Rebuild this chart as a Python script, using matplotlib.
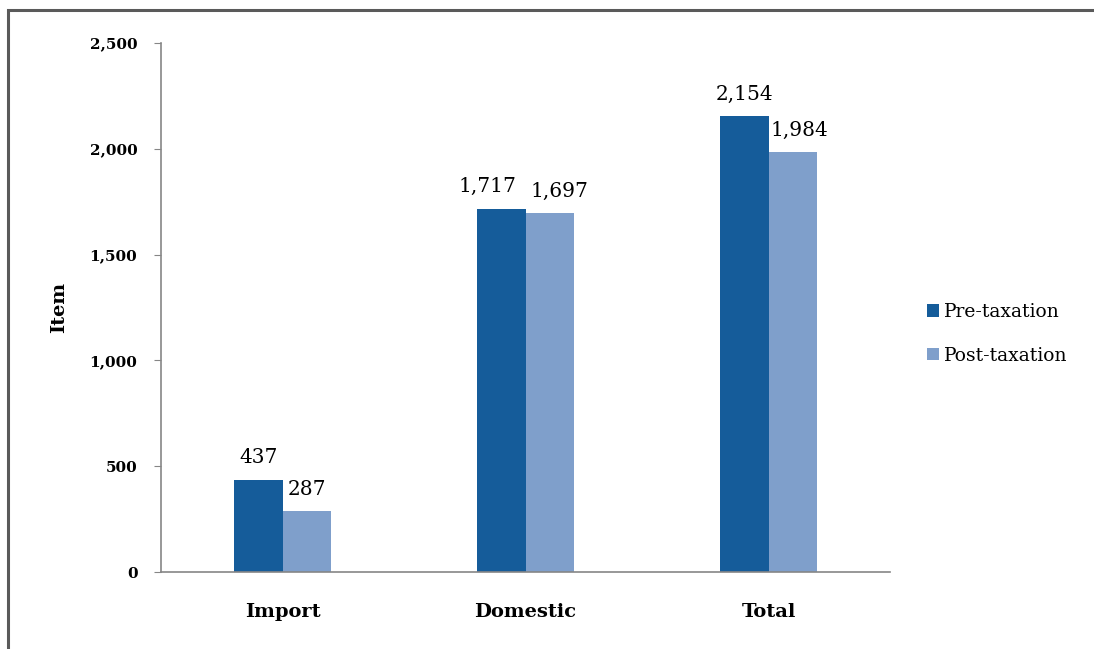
import numpy as np
import matplotlib
matplotlib.use('Agg')
import matplotlib.pyplot as plt
from matplotlib.patches import Rectangle

# Chart data
categories = ['Import', 'Domestic', 'Total']
pre_tax = [437, 1717, 2154]
post_tax = [287, 1697, 1984]
series_names = ['Pre-taxation', 'Post-taxation']
y_ticks = [0, 500, 1000, 1500, 2000, 2500]

# label nudges (points) so neighbouring labels do not collide, as in the original
pre_nudge = [0, -10, 0]
post_nudge = [0, 7, 5]

plt.rcParams['font.family'] = ['DejaVu Serif']

fig = plt.figure(figsize=(10.94, 6.49), dpi=100)
ax = fig.add_axes([0.1472, 0.1186, 0.6664, 0.8151])

# grey frame around the chart (runs off right/bottom edges)
fig.patches.append(Rectangle((8 / 1094, -0.1), 1.2, 1 - 10 / 649 + 0.1,
                             transform=fig.transFigure, fill=False,
                             edgecolor='#5a5a5a', linewidth=2.2))

x = np.arange(len(categories))
w = 0.2
bars1 = ax.bar(x - w / 2, pre_tax, w, color='#155C9A', label=series_names[0])
bars2 = ax.bar(x + w / 2, post_tax, w, color='#7F9FCB', label=series_names[1])

for bars, nudges in ((bars1, pre_nudge), (bars2, post_nudge)):
    for b, dx in zip(bars, nudges):
        ax.annotate(f'{int(b.get_height()):,}', (b.get_x() + b.get_width() / 2, b.get_height()),
                    xytext=(dx, 9), textcoords='offset points', ha='center', va='bottom',
                    fontsize=14.5)

ax.set_xlim(-0.5, 2.5)
ax.set_ylim(0, 2500)
ax.set_xticks(x)
ax.set_xticklabels(categories, fontsize=14, fontweight='bold')
ax.set_yticks(y_ticks)
ax.set_yticklabels([f'{v:,}' for v in y_ticks], fontsize=11, fontweight='bold')
ax.tick_params(axis='x', length=0, pad=22)
ax.tick_params(axis='y', length=5, color='#868686', pad=12)

ax.set_ylabel('Item', fontsize=14, fontweight='bold')
ax.yaxis.set_label_coords(-0.128, 0.5)

for s in ['top', 'right']:
    ax.spines[s].set_visible(False)
for s in ['left', 'bottom']:
    ax.spines[s].set_color('#868686')
    ax.spines[s].set_linewidth(1.2)

ax.legend(loc='center left', bbox_to_anchor=(1.027, 0.45), frameon=False, fontsize=13.5,
          handlelength=0.65, handleheight=0.65, handletextpad=0.3, labelspacing=1.35)

fig.savefig('out.png', dpi=100)
